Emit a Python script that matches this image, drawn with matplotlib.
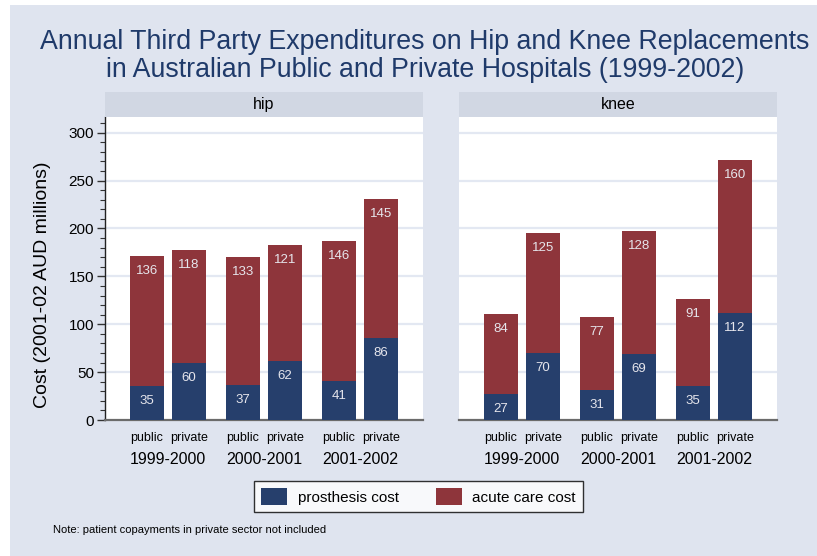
import numpy as np
import matplotlib
matplotlib.use("Agg")
import matplotlib.pyplot as plt
from matplotlib.patches import Rectangle

plt.rcParams['font.family'] = ['Liberation Sans', 'DejaVu Sans']

years = ['1999-2000', '2000-2001', '2001-2002']
sectors = ['public', 'private']
panels = ['hip', 'knee']

# order: 1999 public, 1999 private, 2000 public, 2000 private, 2001 public, 2001 private
hip_prosthesis = [35, 60, 37, 62, 41, 86]
hip_acute = [136, 118, 133, 121, 146, 145]
knee_prosthesis = [27, 70, 31, 69, 35, 112]
knee_acute = [84, 125, 77, 128, 91, 160]

NAVY = '#263f6c'
MAROON = '#8e353b'
BG = '#dfe4ef'
STRIP = '#d1d7e3'
GRID = '#e3e8f2'
TITLE_C = '#1f3a6a'

W, H = 817, 556
fig = plt.figure(figsize=(W / 100, H / 100), dpi=100, facecolor='white')
fig.patches.append(Rectangle((10 / W, 0), 1 - 10 / W, 1 - 5 / H, transform=fig.transFigure,
                             facecolor=BG, edgecolor='none', zorder=-10))


def px(x0, y0, x1, y1):
    return [x0 / W, 1 - y1 / H, (x1 - x0) / W, (y1 - y0) / H]


data = {'hip': (hip_prosthesis, hip_acute), 'knee': (knee_prosthesis, knee_acute)}
panel_x = {'hip': (105, 423), 'knee': (459, 777)}

offset = 21 / 96
width = 34 / 96
centers = []
for g in range(len(years)):
    centers += [g + 1 - offset, g + 1 + offset]
centers = np.array(centers)

bars = {}
for name in panels:
    x0, x1 = panel_x[name]
    ax = fig.add_axes(px(x0, 117, x1, 420))
    ax.set_facecolor('white')
    pro, acu = data[name]
    b1 = ax.bar(centers, pro, width=width, color=NAVY, zorder=3)
    b2 = ax.bar(centers, acu, width=width, bottom=pro, color=MAROON, zorder=3)
    bars['pro'], bars['acu'] = b1, b2
    for c, p, a in zip(centers, pro, acu):
        ax.annotate(str(p), (c, p), xytext=(0, -15), textcoords='offset pixels',
                    ha='center', va='center', color='#e6e6ec', fontsize=9.5, zorder=4)
        ax.annotate(str(a), (c, p + a), xytext=(0, -15), textcoords='offset pixels',
                    ha='center', va='center', color='#e6e6ec', fontsize=9.5, zorder=4)
    ax.set_xlim(1 - 63 / 96, 3 + 63 / 96)
    ax.set_ylim(0, 316.4)
    for yv in np.arange(50, 301, 50):
        ax.axhline(yv, color=GRID, lw=1.6, zorder=1)
    ax.set_xticks(centers)
    ax.set_xticklabels(sectors * 3, fontsize=9)
    ax.tick_params(axis='x', length=0, pad=9)
    for s in ['top', 'right']:
        ax.spines[s].set_visible(False)
    ax.spines['bottom'].set_color('#6b6b6b')
    ax.spines['bottom'].set_linewidth(1.6)
    if name == 'hip':
        ax.set_yticks(np.arange(0, 301, 50))
        ax.set_yticks(np.arange(0, 311, 10), minor=True)
        ax.tick_params(axis='y', labelsize=11, length=6, width=1, color='#333333', pad=2)
        ax.tick_params(axis='y', which='minor', length=3.5, width=0.8, color='#333333')
        ax.spines['left'].set_color('#222222')
        ax.spines['left'].set_linewidth(1)
        ax.set_ylabel('Cost (2001-02 AUD millions)', fontsize=14)
        ax.yaxis.set_label_coords((51 - x0) / (x1 - x0), (420 - 285) / 303)
    else:
        ax.spines['left'].set_visible(False)
        ax.tick_params(axis='y', which='both', left=False, labelleft=False)
    trans = ax.get_xaxis_transform()
    for g, yr in enumerate(years):
        ax.text(g + 1, -0.129, yr, transform=trans, ha='center', va='center', fontsize=11.5)
    # strip header
    sax = fig.add_axes(px(x0, 92, x1, 117))
    sax.set_facecolor(STRIP)
    sax.set_xticks([])
    sax.set_yticks([])
    for s in sax.spines.values():
        s.set_visible(False)
    sax.text(0.5, 0.5, name, ha='center', va='center', fontsize=11.5, transform=sax.transAxes)

fig.text(425 / W, 1 - 42 / H, 'Annual Third Party Expenditures on Hip and Knee Replacements',
         ha='center', va='center', fontsize=19.3, color=TITLE_C)
fig.text(425 / W, 1 - 70 / H, 'in Australian Public and Private Hospitals (1999-2002)',
         ha='center', va='center', fontsize=19.3, color=TITLE_C)

leg = fig.legend([bars['pro'], bars['acu']], ['prosthesis cost', 'acute care cost'],
                 loc='center', bbox_to_anchor=(418.5 / W, 1 - 496.5 / H), ncol=2,
                 fontsize=11, frameon=True, fancybox=False, edgecolor='black',
                 handlelength=1.7, handleheight=1.3, handletextpad=0.7,
                 columnspacing=2.4, borderpad=0.5)
leg.get_frame().set_linewidth(1)

fig.text(53 / W, 1 - 530 / H, 'Note: patient copayments in private sector not included',
         ha='left', va='center', fontsize=8)

fig.savefig('out.png', dpi=100, facecolor=fig.get_facecolor())
